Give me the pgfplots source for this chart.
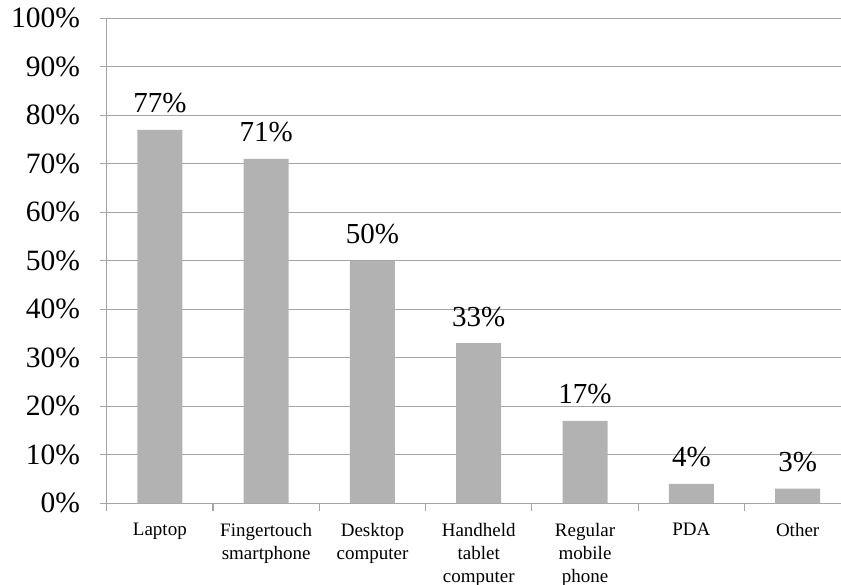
\documentclass[border=0pt]{standalone}
\usepackage{pgfplots}
\pgfplotsset{compat=1.18}
\usepackage{fontspec}
\setmainfont{Liberation Serif}
\definecolor{bargray}{RGB}{178,178,178}
\definecolor{gridgray}{RGB}{165,165,165}
\begin{document}
\begin{tikzpicture}
\useasboundingbox (0,0) rectangle (841pt,585pt);
\begin{axis}[
  at={(106.7pt,81.7pt)}, anchor=south west,
  scale only axis, width=734.3pt, height=485pt,
  xmin=-0.5, xmax=6.408, ymin=0, ymax=100,
  axis x line*=bottom, axis y line*=left,
  axis line style={gridgray, line width=1.2pt, -},
  ymajorgrids, major grid style={gridgray, line width=1.2pt},
  tick align=outside,
  ytick={0,10,...,100},
  yticklabels={0\%,10\%,20\%,30\%,40\%,50\%,60\%,70\%,80\%,90\%,100\%},
  y tick style={gridgray, line width=1.2pt},
  major tick length=6.5pt,
  yticklabel style={font=\fontsize{29.5}{29.5}\selectfont, anchor=east, inner sep=0pt, xshift=-20pt},
  xtick={0,...,6},
  xticklabels={Laptop,{Fingertouch\\smartphone},{Desktop\\computer},{Handheld\\tablet\\computer},{Regular\\mobile\\phone},PDA,Other},
  x tick style={draw=none},
  xticklabel style={font=\fontsize{19}{23}\selectfont, align=center, anchor=north, inner sep=0pt, yshift=-13pt},
  extra x ticks={-0.5,0.5,...,5.5},
  extra x tick labels={},
  extra x tick style={grid=none, x tick style={draw=gridgray, line width=1.2pt}, major tick length=8pt},
  /pgf/number format/assume math mode=true,
  nodes near coords={\pgfmathprintnumber{\pgfplotspointmeta}\%},
  every node near coord/.append style={font=\fontsize{29}{29}\selectfont, anchor=base, inner sep=0pt, yshift=17pt},
]
\addplot[ybar, bar width=45pt, bar shift=0pt, fill=bargray, draw=none]
  coordinates {(0,77) (1,71) (2,50) (3,33) (4,17) (5,4) (6,3)};
\end{axis}
\end{tikzpicture}
\end{document}
